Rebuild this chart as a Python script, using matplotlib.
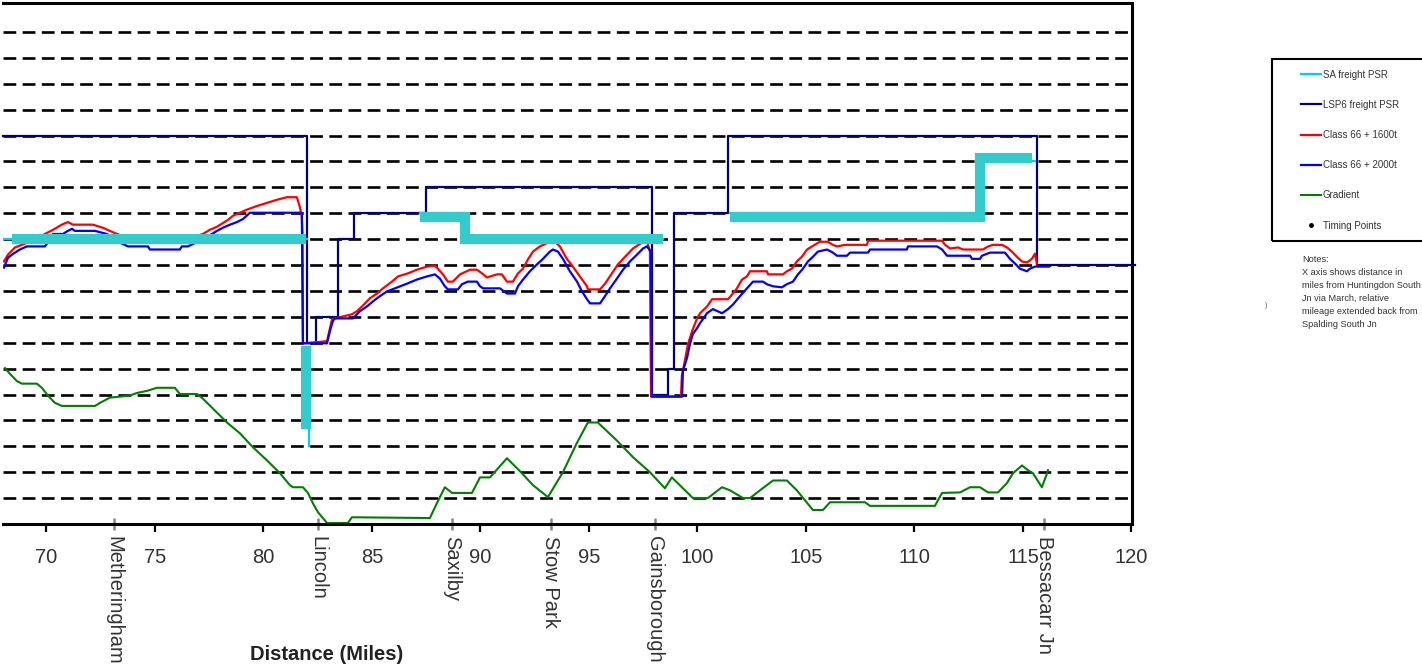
import numpy as np
import matplotlib
matplotlib.use('Agg')
import matplotlib.pyplot as plt
from matplotlib.lines import Line2D
from matplotlib.patches import Rectangle

plt.rcParams['font.family'] = ['Liberation Sans', 'DejaVu Sans']
plt.rcParams['lines.scale_dashes'] = False

nan = np.nan

# LSP6 freight permissible speed (stepped)
lsp6_x = [68.0, 82.0, 82.0, 82.42, 82.42, 83.43, 83.43, 84.17, 84.17, 87.49, 87.49,
          97.9, 97.9, 98.64, 98.64, 98.92, 98.92, 101.41, 101.41, 115.64, 115.64, 120.16]
lsp6_y = [75, 75, 35, 35, 40, 40, 55, 55, 60, 60, 65,
          65, 25, 25, 30, 30, 60, 60, 75, 75, 50, 50]

# SA freight PSR (thin line) and its highlighted band
sa_x = [68.0, 82.0, nan, 82.1, 82.1, nan, 87.2, 89.3, 89.3, 98.4, nan, 101.5, 113.0, 113.0, 115.55]
sa_y = [55, 55, nan, 34, 15, nan, 60, 60, 55, 55, nan, 60, 60, 70, 70]
band_x = [68.4, 81.98, nan, 81.98, 81.98, nan, 87.2, 89.3, 89.3, 98.4, nan, 101.5, 113.0, 113.0, 115.4]
band_y = [55, 55, nan, 34.4, 18.4, nan, 59.2, 59.2, 55, 55, nan, 59.2, 59.2, 70.7, 70.7]

# Class 66 + 1600t
red_x = [68.04, 68.23, 68.41, 68.55, 69.24, 69.93, 70.30, 70.71, 70.99, 71.22, 72.14, 72.60,
         72.93, 73.25, 73.85, 74.77, 76.15, 76.84, 77.21, 77.53, 77.86, 78.09, 78.36, 78.59,
         78.92, 79.24, 79.70, 80.16, 80.62, 81.08, 81.54, 81.68, 81.77, 81.80, 81.82, 81.91,
         82.93, 83.16, 83.29, 84.08, 84.31, 84.59, 84.91, 85.23, 85.51, 85.92, 86.20, 86.66,
         87.07, 87.53, 87.90, 88.04, 88.27, 88.50, 88.73, 89.06, 89.52, 89.84, 90.07, 90.30,
         90.76, 90.99, 91.22, 91.50, 91.73, 91.96, 92.19, 92.42, 92.74, 93.20, 93.43, 93.66,
         93.98, 94.26, 94.58, 94.91, 94.95, 95.51, 95.74, 96.06, 96.33, 96.66, 97.03, 97.35,
         97.67, 97.81, 97.86, 99.24, 99.28, 99.42, 99.56, 99.75, 99.98, 100.12, 100.44, 100.67,
         101.41, 101.59, 101.82, 102.05, 102.28, 102.42, 103.20, 103.25, 103.94, 104.12, 104.35,
         104.58, 104.81, 105.05, 105.28, 105.64, 106.01, 106.24, 106.43, 106.80, 107.81, 107.86,
         111.27, 111.41, 111.64, 112.01, 112.24, 113.16, 113.39, 113.62, 114.03, 114.26, 114.49,
         114.72, 114.95, 115.18, 115.41, 115.55, 115.64]
red_y = [50.7, 52.0, 52.8, 53.4, 54.5, 56.0, 56.8, 57.8, 58.3, 57.8, 57.8, 57.2,
         56.6, 56.0, 55.1, 54.9, 54.9, 55.5, 56.0, 56.8, 57.4, 58.0, 58.7, 59.5,
         60.1, 60.7, 61.4, 62.0, 62.6, 63.1, 63.1, 61.2, 59.3, 56.0, 34.9, 34.9,
         35.3, 39.5, 39.7, 40.5, 41.1, 42.2, 43.6, 44.5, 45.5, 46.8, 47.8, 48.4,
         49.1, 49.7, 49.9, 49.3, 48.2, 46.8, 46.8, 48.2, 49.1, 49.1, 48.4, 47.6,
         48.2, 48.2, 46.8, 46.8, 48.4, 49.3, 51.1, 52.6, 53.6, 54.5, 54.5, 53.6,
         51.2, 49.7, 47.8, 45.9, 45.3, 45.3, 46.4, 48.4, 50.1, 51.6, 53.2, 54.1,
         54.7, 52.6, 24.6, 24.6, 28.6, 31.5, 34.7, 37.2, 39.7, 40.7, 42.0, 43.4,
         43.4, 44.3, 45.5, 47.2, 47.8, 48.8, 48.8, 48.2, 48.2, 48.8, 49.3,
         50.7, 51.6, 53.0, 53.6, 54.5, 54.5, 53.9, 53.6, 53.9, 53.9, 54.7,
         54.7, 53.9, 53.2, 53.4, 53.0, 53.0, 53.6, 53.9, 53.9, 53.4, 52.6,
         51.6, 50.7, 50.5, 51.2, 52.2, 50.3]

# Class 66 + 2000t
blue_x = [68.04, 68.23, 68.41, 68.55, 68.78, 69.10, 69.93, 70.16, 70.30, 70.76, 70.99, 71.18,
          71.31, 72.24, 72.79, 73.29, 73.76, 74.68, 74.77, 76.15, 76.24, 76.52, 77.07, 77.63,
          77.86, 78.13, 78.46, 78.78, 79.06, 79.38, 81.77, 81.82, 81.91, 82.93, 83.06, 83.20,
          83.29, 84.12, 84.22, 84.45, 84.77, 85.05, 85.37, 85.69, 86.06, 86.61, 87.07, 87.53,
          87.90, 88.13, 88.36, 88.50, 88.96, 89.15, 89.42, 89.84, 89.98, 90.12, 90.90, 91.22,
          91.59, 91.73, 91.96, 92.28, 92.60, 92.88, 93.20, 93.34, 93.57, 93.80, 94.12, 94.45,
          94.68, 94.91, 95.05, 95.51, 95.74, 95.97, 96.29, 96.57, 96.89, 97.21, 97.49, 97.67,
          97.86, 97.90, 99.29, 99.33, 99.52, 99.65, 99.79, 99.98, 100.12, 100.44, 100.71, 101.13,
          101.41, 101.64, 101.96, 102.28, 102.56, 103.02, 103.20, 103.48, 103.89, 104.12, 104.40,
          104.63, 104.86, 105.09, 105.32, 105.55, 105.97, 106.24, 106.43, 106.89, 107.03, 107.86,
          107.95, 109.65, 109.70, 111.04, 111.27, 111.50, 112.56, 112.65, 113.02, 113.11, 113.48,
          114.17, 114.40, 114.63, 114.86, 115.18, 115.32, 115.55, 116.19]
blue_y = [49.5, 51.4, 52.0, 52.4, 53.0, 53.6, 53.6, 54.9, 56.0, 56.0, 56.6, 57.0,
          56.6, 56.6, 56.0, 54.5, 53.6, 53.6, 53.0, 53.0, 53.6, 53.6, 54.7, 56.0,
          56.6, 57.2, 57.8, 58.3, 58.9, 60.1, 60.1, 34.9, 34.9, 34.9, 37.2, 39.2,
          39.7, 39.7, 40.1, 41.1, 42.0, 43.0, 44.0, 44.9, 45.5, 46.4, 47.2, 47.8,
          48.2, 47.4, 45.9, 45.3, 45.3, 46.3, 46.8, 46.8, 45.9, 45.5, 45.5, 44.5,
          44.5, 45.9, 47.2, 48.8, 50.1, 51.2, 52.6, 53.0, 52.6, 51.2, 48.8, 46.8,
          44.9, 43.4, 42.6, 42.6, 44.0, 45.5, 47.4, 49.1, 50.7, 52.0, 53.2, 53.6,
          52.6, 24.6, 24.6, 29.6, 32.1, 34.7, 36.7, 37.8, 38.8, 40.7, 41.5, 40.7,
          41.5, 42.4, 44.0, 45.5, 46.8, 46.8, 46.3, 45.9, 45.7, 46.3, 46.8,
          48.2, 49.3, 50.7, 51.6, 52.6, 53.0, 52.4, 51.8, 51.8, 52.4, 52.4,
          53.0, 53.0, 53.6, 53.6, 53.0, 51.8, 51.8, 51.2, 51.2, 51.8, 52.4,
          52.4, 51.2, 50.3, 49.3, 48.8, 49.3, 49.7, 49.7]

# Gradient profile
grad_x = [68.09, 68.32, 68.64, 68.87, 69.56, 69.79, 70.07, 70.39, 70.71, 72.24, 72.47, 72.93,
          73.85, 74.17, 74.63, 75.09, 75.92, 76.15, 76.94, 77.21, 77.67, 78.32, 78.92, 79.52,
          80.16, 80.76, 81.22, 81.36, 81.82, 82.05, 82.28, 82.51, 82.74, 82.93, 83.89, 84.08,
          87.67, 87.99, 88.36, 88.69, 89.61, 89.98, 90.44, 91.22, 91.82, 92.42, 93.11, 93.80,
          94.45, 94.95, 95.41, 96.29, 97.03, 97.81, 98.50, 98.82, 99.33, 99.79, 100.48, 101.13,
          101.50, 102.10, 102.42, 102.88, 103.48, 104.12, 104.58, 105.32, 105.78, 106.11, 107.72,
          107.95, 110.94, 111.27, 112.10, 112.56, 113.02, 113.39, 113.85, 114.26, 114.54, 114.95,
          115.23, 115.46, 115.87, 116.11, 116.15]
grad_y = [30.1, 29.0, 27.6, 27.1, 27.1, 26.3, 24.8, 23.4, 22.8, 22.8, 23.4, 24.4,
          24.8, 25.3, 25.7, 26.3, 26.3, 25.1, 25.1, 24.2, 22.3, 19.6, 17.5, 14.8,
          12.3, 9.8, 7.5, 7.1, 7.1, 6.0, 4.0, 2.3, 1.15, 0.2, 0.2, 1.3,
          1.15, 4.0, 7.1, 6.0, 6.0, 9.0, 9.0, 12.7, 10.2, 7.5, 5.2, 10.0,
          15.7, 19.6, 19.6, 16.1, 12.9, 10.0, 6.9, 9.0, 6.9, 5.0, 5.0, 7.1,
          6.5, 5.0, 5.0, 6.5, 8.4, 8.4, 6.5, 2.7, 2.7, 4.2, 4.2,
          3.5, 3.5, 6.0, 6.1, 7.1, 7.1, 6.1, 6.1, 7.9, 9.8, 11.3,
          10.4, 9.8, 7.1, 9.8, 10.4]

station_x = [73.11, 82.51, 88.69, 93.25, 98.04, 115.97]
station_names = ['Metheringham', 'Lincoln', 'Saxilby', 'Stow Park', 'Gainsborough', 'Bessacarr Jn']

mile_ticks = list(range(70, 121, 5))

fig = plt.figure(figsize=(14.22, 6.70), dpi=100)
ax = fig.add_axes([3 / 1422, 146 / 670, 1128.5 / 1422, 521 / 670])

ax.plot(grad_x, grad_y, color='#008000', lw=1.5, zorder=2, label='Gradient')
ax.plot(lsp6_x, lsp6_y, color='#000080', lw=1.6, zorder=3, clip_on=False,
        label='LSP6 freight PSR')
ax.plot(red_x, red_y, color='#ff0000', lw=1.6, zorder=4, label='Class 66 + 1600t')
ax.plot(blue_x, blue_y, color='#0000ff', lw=1.6, zorder=5, label='Class 66 + 2000t')
ax.plot(sa_x, sa_y, color='#00ccff', lw=1.6, zorder=6, label='SA freight PSR')
ax.plot(band_x, band_y, color='#33cccc', lw=7.3, zorder=7,
        solid_capstyle='butt', solid_joinstyle='miter')

ax.set_xlim(68, 120)
ax.set_ylim(0, 100.6)
ax.set_yticks(range(0, 100, 5))
ax.yaxis.grid(True, color='black', linestyle=(0, (9.2, 4.6)), linewidth=1.9, zorder=0)
ax.set_axisbelow(True)
ax.tick_params(axis='y', length=0, labelleft=False)

ax.spines['left'].set_visible(False)
for s in ['top', 'bottom', 'right']:
    ax.spines[s].set_linewidth(2.2)

ax.set_xticks(mile_ticks)
ax.set_xticklabels([str(t) for t in mile_ticks], fontsize=14.5, color='#333333')
ax.tick_params(axis='x', which='major', direction='out', length=6, width=1.6, pad=11)
ax.set_xticks(station_x, minor=True)
ax.set_xticklabels(station_names, minor=True, rotation=270, fontsize=14.5,
                   color='#333333', va='top', ha='center')
ax.tick_params(axis='x', which='minor', direction='inout', length=8, width=1.8,
               color='#888888', pad=5)

fig.text(327 / 1422, 1 - 655 / 670, 'Distance (Miles)', ha='center', va='center',
         fontsize=14.5, fontweight='bold', color='#222222')

# legend box and entries
fig.patches.append(Rectangle((1272 / 1422, 1 - 241 / 670), 170 / 1422, 182 / 670,
                             transform=fig.transFigure, fill=False, edgecolor='black',
                             lw=1.5))
order = ['SA freight PSR', 'LSP6 freight PSR', 'Class 66 + 1600t', 'Class 66 + 2000t', 'Gradient']
hl = dict(zip(*ax.get_legend_handles_labels()[::-1]))
handles = [hl[k] for k in order]
handles.append(Line2D([], [], color='black', marker='.', ls='none', markersize=5))
labels = order + ['Timing Points']
fig.legend(handles, labels, loc='upper left', bbox_to_anchor=(1301 / 1422, 1 - 69.5 / 670),
           frameon=False, fontsize=7, handlelength=2.1, handletextpad=0.15,
           labelspacing=2.08, borderpad=0, borderaxespad=0, labelcolor='#333333')

fig.text(1302 / 1422, 1 - 255 / 670,
         'Notes:\nX axis shows distance in\nmiles from Huntingdon South\n'
         'Jn via March, relative\nmileage extended back from\nSpalding South Jn',
         ha='left', va='top', fontsize=6.6, linespacing=1.58, color='#333333')
fig.text(1266 / 1422, 1 - 306 / 670, ')', ha='center', va='center', fontsize=5,
         color='#555555')

plt.savefig('out.png', dpi=100)
